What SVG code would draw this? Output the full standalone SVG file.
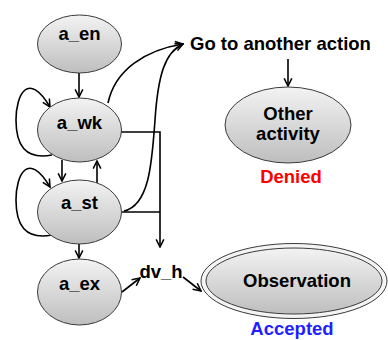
<svg xmlns="http://www.w3.org/2000/svg" width="388" height="340" viewBox="0 0 388 340">
<defs>
<linearGradient id="g" x1="0" y1="0" x2="0" y2="1">
<stop offset="0" stop-color="#f3f3f3"/>
<stop offset="1" stop-color="#bebebe"/>
</linearGradient>
<marker id="ah" viewBox="0 0 10 10" refX="9" refY="5" markerWidth="6" markerHeight="6" orient="auto" markerUnits="strokeWidth">
<path d="M1,1 L9,5 L1,9" fill="none" stroke="#000" stroke-width="1.6"/>
</marker>
</defs>
<style>
.n{fill:url(#g);stroke:#3a3a3a;stroke-width:1}
.t{font-family:"Liberation Sans",Arial,sans-serif;font-weight:bold;font-size:18.5px;fill:#000;text-anchor:middle}
.c{fill:none;stroke:#000;stroke-width:1.6}
.a{marker-end:url(#ah)}
</style>
<g id="connectors">
<path class="c a" d="M79,73 L79,97"/>
<path class="c a" d="M62,160 L62,181"/>
<path class="c a" d="M97,183 L97,161"/>
<path class="c a" d="M79,244 L79,258"/>
<path class="c a" d="M52,155 C25,160 16,145 16,120 C16,95 28,70 50,107"/>
<path class="c a" d="M52,235 C25,240 16,225 16,200 C16,175 28,150 50,187"/>
<path class="c a" d="M121,132 L160,132 L160,247"/>
<path class="c" d="M122,212 L160,212"/>
<path class="c a" d="M108,103 C115,70 145,50 183,44"/>
<path class="c a" d="M124,211 C150,205 152,160 155,120 C158,75 165,52 183,44"/>
<path class="c a" d="M122,292 L140,278"/>
<path class="c a" d="M183,277 L201,291"/>
<path class="c a" d="M288,59 L288,86"/>
</g>
<g id="a_en">
<ellipse class="n" cx="79.5" cy="44" rx="42" ry="29"/>
<text class="t" x="79.5" y="40">a_en</text>
</g>
<g id="a_wk">
<ellipse class="n" cx="79.5" cy="130" rx="42" ry="32"/>
<text class="t" x="79.5" y="129">a_wk</text>
</g>
<g id="a_st">
<ellipse class="n" cx="79.5" cy="212" rx="42" ry="32"/>
<text class="t" x="79.5" y="209">a_st</text>
</g>
<g id="a_ex">
<ellipse class="n" cx="79.5" cy="292" rx="42" ry="33"/>
<text class="t" x="79.5" y="290">a_ex</text>
</g>
<g id="go_to_another_action">
<text class="t" x="190" y="50" style="text-anchor:start">Go to another action</text>
</g>
<g id="other_activity">
<ellipse class="n" cx="288" cy="125" rx="63" ry="38"/>
<text class="t" x="288" y="120">Other</text>
<text class="t" x="288" y="140">activity</text>
<text class="t" x="291" y="183" style="fill:#ff0000">Denied</text>
</g>
<g id="dv_h">
<text class="t" x="161" y="278">dv_h</text>
</g>
<g id="observation">
<ellipse cx="294" cy="281" rx="93" ry="37.5" fill="#f4f4f4" stroke="#3a3a3a" stroke-width="1"/>
<ellipse class="n" cx="294" cy="281" rx="88" ry="33"/>
<text class="t" x="297" y="287">Observation</text>
<text class="t" x="292" y="335" style="fill:#1f1fff">Accepted</text>
</g>
</svg>
